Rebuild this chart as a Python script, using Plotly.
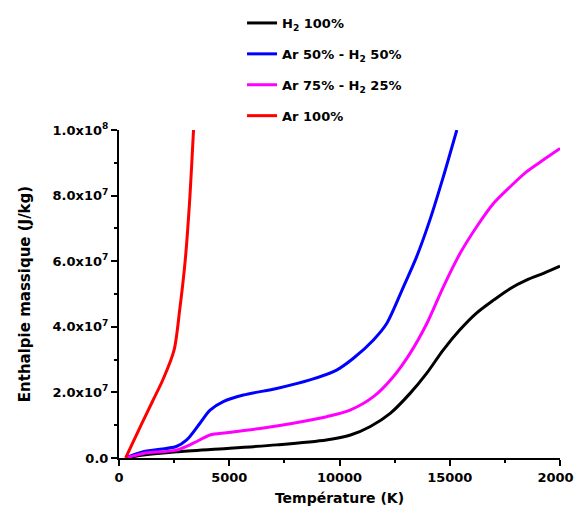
import plotly.graph_objects as go

# Temperature (K) and mass enthalpy (J/kg)
t_h2 = [300, 1100, 2600, 4900, 7150, 9400, 10500, 11400, 12300, 13200, 13950, 14700, 15450, 16200, 17000, 17750, 18500, 19250, 20000]
h_h2 = [0, 0.09e7, 0.19e7, 0.29e7, 0.40e7, 0.55e7, 0.70e7, 0.96e7, 1.36e7, 1.97e7, 2.58e7, 3.29e7, 3.90e7, 4.41e7, 4.82e7, 5.17e7, 5.43e7, 5.63e7, 5.85e7]

t_ar50 = [300, 1100, 2600, 3070, 3670, 4130, 4730, 5640, 7150, 8660, 9870, 10630, 11540, 12140, 12900, 13500, 14100, 14710, 15320]
h_ar50 = [0, 0.19e7, 0.35e7, 0.55e7, 1.06e7, 1.46e7, 1.72e7, 1.92e7, 2.12e7, 2.38e7, 2.68e7, 3.04e7, 3.60e7, 4.10e7, 5.22e7, 6.14e7, 7.26e7, 8.58e7, 1.0e8]

t_ar75 = [300, 1100, 2600, 3370, 4130, 4880, 6400, 7900, 9420, 10480, 11540, 12440, 13200, 13960, 14710, 15470, 16220, 16980, 17740, 18490, 19250, 20000]
h_ar75 = [0, 0.14e7, 0.24e7, 0.45e7, 0.70e7, 0.77e7, 0.90e7, 1.06e7, 1.26e7, 1.46e7, 1.87e7, 2.48e7, 3.19e7, 4.10e7, 5.22e7, 6.24e7, 7.05e7, 7.76e7, 8.27e7, 8.73e7, 9.09e7, 9.44e7]

t_ar100 = [300, 1000, 1500, 2000, 2500, 2750, 3000, 3200, 3380]
h_ar100 = [0, 1.0e7, 1.7e7, 2.4e7, 3.3e7, 4.5e7, 6.0e7, 7.8e7, 1.0e8]

x_ticks = [0, 5000, 10000, 15000, 20000]
x_labels = ["0", "5000", "10000", "15000", "20000"]
y_ticks = [0, 2e7, 4e7, 6e7, 8e7, 1e8]
y_labels = ["0.0", "2.0x10<sup>7</sup>", "4.0x10<sup>7</sup>", "6.0x10<sup>7</sup>", "8.0x10<sup>7</sup>", "1.0x10<sup>8</sup>"]

series = [
    ("H<sub>2</sub> 100%", t_h2, h_h2, "#000000"),
    ("Ar 50% - H<sub>2</sub> 50%", t_ar50, h_ar50, "#0000ff"),
    ("Ar 75% - H<sub>2</sub> 25%", t_ar75, h_ar75, "#ff00ff"),
    ("Ar 100%", t_ar100, h_ar100, "#ff0000"),
]

FAM = "DejaVu Sans, Liberation Sans, Arial, sans-serif"

fig = go.Figure()
for i, (name, xs, ys, col) in enumerate(series):
    fig.add_trace(go.Scatter(x=xs, y=ys, mode="lines", name=name,
                             legendgroup=str(i),
                             line=dict(color=col, width=3, shape="spline", smoothing=0.8)))

fig.update_layout(
    width=582, height=517,
    margin=dict(l=111, r=30, t=122, b=67, autoexpand=False),
    paper_bgcolor="white", plot_bgcolor="white",
    font=dict(family=FAM, size=13, color="black"),
    showlegend=True,
    legend=dict(x=0.279, xref="paper", y=1.012, yref="container", xanchor="left", yanchor="top",
                traceorder="grouped", tracegroupgap=11,
                font=dict(family=FAM, size=13, color="black", weight="bold"),
                bgcolor="rgba(0,0,0,0)"),
)
fig.update_xaxes(range=[0, 20000], tickvals=x_ticks, ticktext=x_labels, automargin=False,
                 showgrid=False, zeroline=False, showline=True, linecolor="black", linewidth=2,
                 ticks="outside", ticklen=6, tickwidth=2, tickcolor="black",
                 minor=dict(ticks="outside", ticklen=3, tickwidth=2, tickcolor="black", dtick=2500, tick0=0, showgrid=False),
                 tickfont=dict(family=FAM, size=13, color="black", weight="bold"),
                 title=dict(text="Température (K)", standoff=10,
                            font=dict(family=FAM, size=14, color="black", weight="bold")))
fig.update_yaxes(range=[0, 1e8], tickvals=y_ticks, ticktext=y_labels, automargin=False,
                 showgrid=False, zeroline=False, showline=True, linecolor="black", linewidth=2,
                 ticks="outside", ticklen=6, tickwidth=2, tickcolor="black",
                 minor=dict(ticks="outside", ticklen=3, tickwidth=2, tickcolor="black", dtick=1e7, tick0=0, showgrid=False),
                 tickfont=dict(family=FAM, size=13, color="black", weight="bold"),
                 title=dict(text="Enthalpie massique (J/kg)", standoff=18,
                            font=dict(family=FAM, size=15, color="black", weight="bold")))

fig.write_html("out.html")
